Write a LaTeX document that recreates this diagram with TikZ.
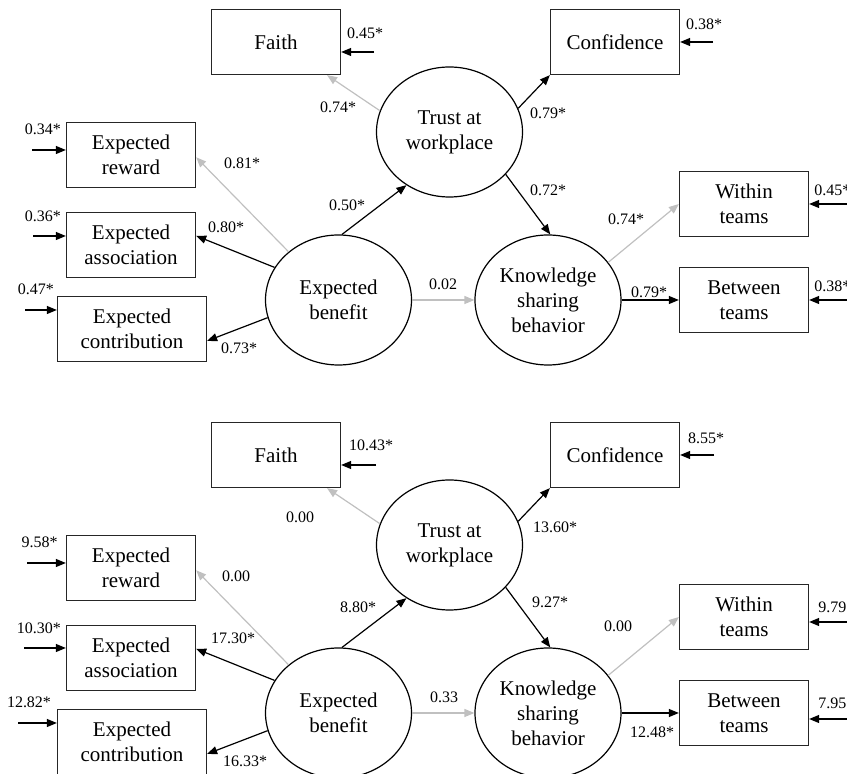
\documentclass[tikz,border=0pt]{standalone}
\usepackage{fontspec}
\setmainfont{Liberation Serif}
\usetikzlibrary{arrows.meta,shapes.geometric}
\definecolor{pathgray}{RGB}{192,192,192}
\begin{document}
\begin{tikzpicture}[x=0.5pt,y=-0.5pt,
    obs/.style={draw=black!85,line width=0.65pt,minimum width=64.5pt,minimum height=32.5pt,
        inner sep=0pt,align=center,font=\fontsize{10.5}{12.5}\selectfont},
    lat/.style={draw,ellipse,line width=0.6pt,minimum width=73pt,minimum height=65pt,
        inner sep=0pt,align=center,font=\fontsize{10.5}{12.5}\selectfont},
    sig/.style={-{Triangle[length=5pt,width=4pt]},line width=0.6pt,color=black},
    nsig/.style={-{Triangle[length=5pt,width=4pt]},line width=0.6pt,color=pathgray},
    err/.style={-{Triangle[length=5pt,width=4pt]},line width=0.6pt,color=black},
    coef/.style={font=\fontsize{8}{9}\selectfont,inner sep=0pt}]
    \useasboundingbox (0,0) rectangle (847,774);

    % standardized solution
    \node[obs] (faith1) at (276,42) {Faith};
    \node[obs] (conf1) at (615,42) {Confidence};
    \node[obs] (reward1) at (131,155) {Expected\\reward};
    \node[obs] (assoc1) at (131,245) {Expected\\association};
    \node[obs,minimum width=74.5pt] (contrib1) at (132,329) {Expected\\contribution};
    \node[obs] (within1) at (744,204) {Within\\teams};
    \node[obs] (between1) at (744,300) {Between\\teams};
    \node[lat] (trust1) at (449.5,132) {Trust at\\workplace};
    \node[lat] (benefit1) at (338.5,300) {Expected\\benefit};
    \node[lat] (know1) at (548,300) {Knowledge\\sharing\\behavior};

    \draw[nsig] (trust1.163) -- (faith1.-33);
    \draw[sig] (trust1.19) -- (conf1.south west);
    \draw[sig] (trust1.-37) -- (know1.88);
    \draw[sig] (benefit1.87) -- (trust1.231);
    \draw[nsig] (benefit1.136) -- (reward1.-2);
    \draw[sig] (benefit1.153) -- (assoc1.8);
    \draw[sig] (benefit1.194) -- (contrib1.-9);
    \draw[nsig] (benefit1.east) -- (know1.west);
    \draw[nsig] (know1.32) -- (within1.west);
    \draw[sig] (know1.east) -- (between1.west);

    \coordinate (faithE1) at (374,52);
    \coordinate (confE1) at (713,42);
    \coordinate (rewardE1) at (32,150);
    \coordinate (assocE1) at (33,236);
    \coordinate (contribE1) at (25,310);
    \coordinate (withinE1) at (850,204);
    \coordinate (betweenE1) at (850,300);
    \draw[err] (faithE1) -- ([yshift=-5pt]faith1.east);
    \draw[err] (confE1) -- (conf1.east);
    \draw[err] (rewardE1) -- ([yshift=2.5pt]reward1.west);
    \draw[err] (assocE1) -- ([yshift=4.5pt]assoc1.west);
    \draw[err] (contribE1) -- ([yshift=9.5pt]contrib1.west);
    \draw[err] (withinE1) -- (within1.east);
    \draw[err] (betweenE1) -- (between1.east);

    \node[coef] at (365,33) {0.45*};
    \node[coef] at (704,24) {0.38*};
    \node[coef] at (43,129) {0.34*};
    \node[coef] at (43,216) {0.36*};
    \node[coef] at (36,289) {0.47*};
    \node[coef,anchor=west] at (814,190) {0.45*};
    \node[coef,anchor=west] at (814,286) {0.38*};
    \node[coef] at (338,107) {0.74*};
    \node[coef] at (242,163) {0.81*};
    \node[coef] at (347,205) {0.50*};
    \node[coef] at (226,227) {0.80*};
    \node[coef] at (239,348) {0.73*};
    \node[coef] at (443,284) {0.02};
    \node[coef] at (548,113) {0.79*};
    \node[coef] at (548,190) {0.72*};
    \node[coef] at (626,219) {0.74*};
    \node[coef] at (649,292) {0.79*};

    % t-values
    \begin{scope}[yshift=-206.5pt]
        \node[obs] (faith2) at (276,42) {Faith};
        \node[obs] (conf2) at (615,42) {Confidence};
        \node[obs] (reward2) at (131,155) {Expected\\reward};
        \node[obs] (assoc2) at (131,245) {Expected\\association};
        \node[obs,minimum width=74.5pt] (contrib2) at (132,329) {Expected\\contribution};
        \node[obs] (within2) at (744,204) {Within\\teams};
        \node[obs] (between2) at (744,300) {Between\\teams};
        \node[lat] (trust2) at (449.5,132) {Trust at\\workplace};
        \node[lat] (benefit2) at (338.5,300) {Expected\\benefit};
        \node[lat] (know2) at (548,300) {Knowledge\\sharing\\behavior};

        \draw[nsig] (trust2.163) -- (faith2.-33);
        \draw[sig] (trust2.19) -- (conf2.south west);
        \draw[sig] (trust2.-37) -- (know2.88);
        \draw[sig] (benefit2.87) -- (trust2.231);
        \draw[nsig] (benefit2.136) -- (reward2.-2);
        \draw[sig] (benefit2.153) -- (assoc2.8);
        \draw[sig] (benefit2.194) -- (contrib2.-9);
        \draw[nsig] (benefit2.east) -- (know2.west);
        \draw[nsig] (know2.32) -- (within2.west);
        \draw[sig] (know2.east) -- (between2.west);

        \coordinate (faithE2) at (376,52);
        \coordinate (confE2) at (714,42);
        \coordinate (rewardE2) at (27,150);
        \coordinate (assocE2) at (24,235);
        \coordinate (contribE2) at (18,310);
        \coordinate (withinE2) at (850,209);
        \coordinate (betweenE2) at (850,306);
        \draw[err] (faithE2) -- ([yshift=-5pt]faith2.east);
        \draw[err] (confE2) -- (conf2.east);
        \draw[err] (rewardE2) -- ([yshift=2.5pt]reward2.west);
        \draw[err] (assocE2) -- ([yshift=5pt]assoc2.west);
        \draw[err] (contribE2) -- ([yshift=9.5pt]contrib2.west);
        \draw[err] (withinE2) -- ([yshift=-2.5pt]within2.east);
        \draw[err] (betweenE2) -- ([yshift=-3pt]between2.east);

        \node[coef] at (371,32) {10.43*};
        \node[coef] at (706,25) {8.55*};
        \node[coef] at (39.5,129) {9.58*};
        \node[coef] at (39,215) {10.30*};
        \node[coef] at (29,289) {12.82*};
        \node[coef,anchor=west] at (818,194) {9.79*};
        \node[coef,anchor=west] at (818,290) {7.95*};
        \node[coef] at (300,104) {0.00};
        \node[coef] at (236,163) {0.00};
        \node[coef] at (358,194) {8.80*};
        \node[coef] at (233,225) {17.30*};
        \node[coef] at (245,348) {16.33*};
        \node[coef] at (444,284) {0.33};
        \node[coef] at (555,114) {13.60*};
        \node[coef] at (550,189) {9.27*};
        \node[coef] at (618,213) {0.00};
        \node[coef] at (652,319) {12.48*};
    \end{scope}
\end{tikzpicture}
\end{document}
